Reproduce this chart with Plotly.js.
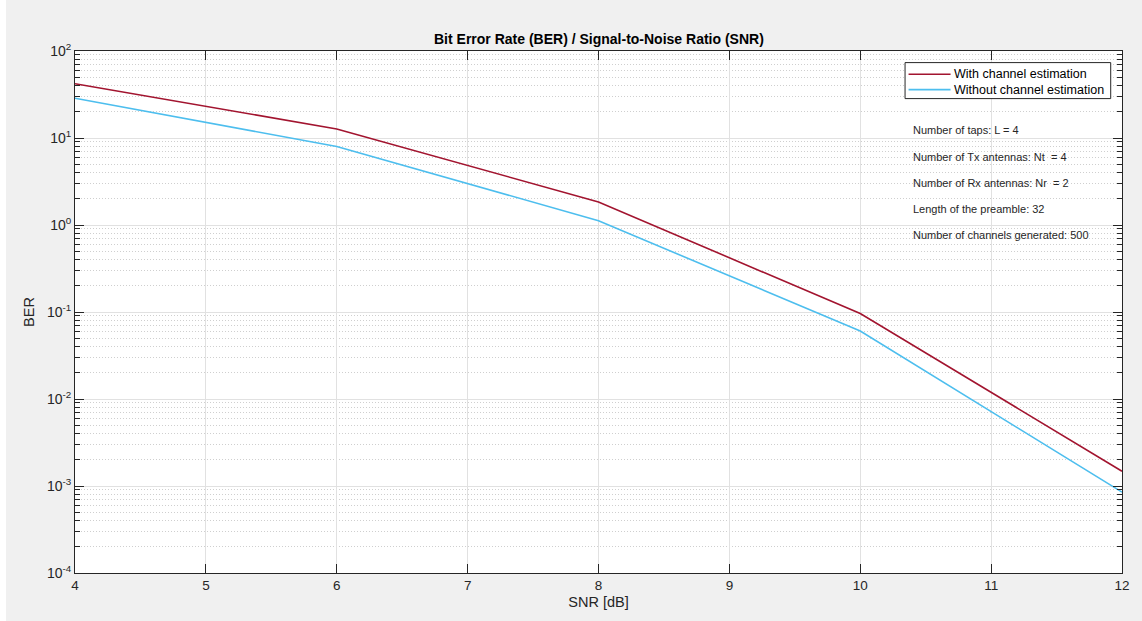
<!DOCTYPE html>
<html>
<head>
<meta charset="utf-8">
<script src="https://cdn.plot.ly/plotly-3.0.1.min.js"></script>
<style>
html,body{margin:0;padding:0;background:#ffffff;}
#chart{position:absolute;left:6px;top:0;width:1136px;height:621px;}
</style>
</head>
<body>
<div id="chart"></div>
<script>
const snr = [4, 6, 8, 10, 12];
const berWithEst = [42, 12.7, 1.84, 0.096, 0.00148];
const berWithoutEst = [28.6, 8.0, 1.12, 0.0605, 0.00085];
const seriesNames = ["With channel estimation", "Without channel estimation"];
const seriesColors = ["#A2142F", "#4DBEEE"];
const yTickVals = [1e-4, 1e-3, 1e-2, 1e-1, 1e0, 1e1, 1e2];
const yTickText = ["10<sup>-4</sup>", "10<sup>-3</sup>", "10<sup>-2</sup>", "10<sup>-1</sup>", "10<sup>0</sup>", "10<sup>1</sup>", "10<sup>2</sup>"];
const infoLines = [
  "Number of taps: L = 4",
  "Number of Tx antennas: Nt  = 4",
  "Number of Rx antennas: Nr  = 2",
  "Length of the preamble: 32",
  "Number of channels generated: 500"
];

const FONT = "Liberation Sans, Arial, Helvetica, sans-serif";
const traces = [
  {x: snr, y: berWithEst, name: seriesNames[0], mode: "lines", line: {color: seriesColors[0], width: 1.6}},
  {x: snr, y: berWithoutEst, name: seriesNames[1], mode: "lines", line: {color: seriesColors[1], width: 1.6}}
];

// plot area in page pixels
const PL = 74.7, PR = 1122, PT = 50.7, PB = 572.7;
const px = v => (v - PL) / (PR - PL);
const py = v => 1 - (v - PT) / (PB - PT);

const ypos = [130, 156.7, 182.3, 208.3, 234.3];
const annotations = infoLines.map((t, i) => ({
  text: t, xref: "paper", yref: "paper",
  x: px(910.7), xanchor: "left",
  y: py(ypos[i]), yanchor: "middle",
  showarrow: false, font: {family: FONT, size: 11, color: "#262626"}
}));
annotations.push({
  text: "<b>Bit Error Rate (BER) / Signal-to-Noise Ratio (SNR)</b>",
  xref: "paper", yref: "paper", x: 0.5, y: 1, yanchor: "bottom", yshift: 2,
  showarrow: false, font: {family: FONT, size: 14, color: "#000"}
});

// manual legend (MATLAB-style compact)
const legRows = [74, 89.3];
const shapes = [{
  type: "rect", xref: "paper", yref: "paper",
  x0: px(905), x1: px(1110.7), y0: py(62.3), y1: py(98.3),
  fillcolor: "#ffffff", line: {color: "#262626", width: 1}, layer: "above"
}];
seriesNames.forEach((n, i) => {
  shapes.push({
    type: "line", xref: "paper", yref: "paper",
    x0: px(908.5), x1: px(950.5), y0: py(legRows[i]), y1: py(legRows[i]),
    line: {color: seriesColors[i], width: 1.6}, layer: "above"
  });
  annotations.push({
    text: n, xref: "paper", yref: "paper", x: px(952), xanchor: "left",
    y: py(legRows[i]), yanchor: "middle", showarrow: false,
    font: {family: FONT, size: 12.5, color: "#000"}
  });
});

const layout = {
  width: 1136, height: 621,
  paper_bgcolor: "#f0f0f0", plot_bgcolor: "#ffffff",
  margin: {l: PL - 6, r: 1142 - PR, t: PT, b: 621 - PB, pad: 0},
  font: {family: FONT, size: 13, color: "#262626"},
  showlegend: false,
  xaxis: {
    range: [4, 12], dtick: 1, tick0: 4,
    showline: true, linecolor: "#262626", linewidth: 1, mirror: "ticks",
    ticks: "inside", ticklen: 9, tickcolor: "#262626",
    showgrid: true, gridcolor: "#e1e1e1", gridwidth: 1,
    zeroline: false,
    tickfont: {family: FONT, size: 13.5, color: "#262626"},
    title: {text: "SNR [dB]", font: {family: FONT, size: 14.5, color: "#262626"}, standoff: 4}
  },
  yaxis: {
    type: "log", range: [-4, 2],
    tickvals: yTickVals, ticktext: yTickText,
    showline: true, linecolor: "#262626", linewidth: 1, mirror: "ticks",
    ticks: "inside", ticklen: 9, tickcolor: "#262626",
    showgrid: true, gridcolor: "#e1e1e1", gridwidth: 1,
    zeroline: false,
    tickfont: {family: FONT, size: 14, color: "#262626"},
    minor: {dtick: "D1", ticks: "inside", ticklen: 5, tickcolor: "#262626", showgrid: true, gridcolor: "#cfcfcf", griddash: "1px,2px", gridwidth: 1},
    title: {text: "BER", font: {family: FONT, size: 14.5, color: "#262626"}, standoff: 8}
  },
  shapes: shapes,
  annotations: annotations
};

Plotly.newPlot("chart", traces, layout, {displayModeBar: false, staticPlot: true});
</script>
</body>
</html>
